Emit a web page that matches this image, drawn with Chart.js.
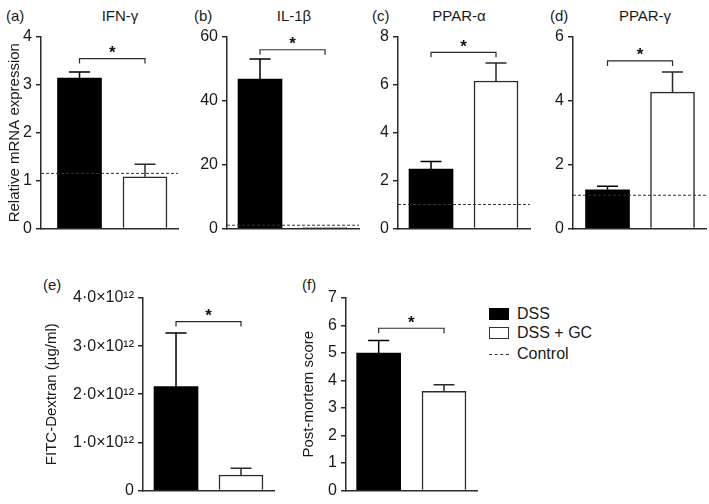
<!DOCTYPE html>
<html><head><meta charset="utf-8">
<script src="https://cdn.jsdelivr.net/npm/chart.js@4"></script>
<style>
html,body{margin:0;padding:0;background:#fff;}
body{width:709px;height:504px;position:relative;overflow:hidden;font-family:"Liberation Sans",Arial,sans-serif;color:#1a1a1a;}
canvas{position:absolute;}
.t{position:absolute;font-size:15px;line-height:15px;white-space:nowrap;transform:translateY(-50%);}
.c{transform:translate(-50%,-50%);}
.lg{position:absolute;font-size:16px;line-height:16px;white-space:nowrap;transform:translateY(-50%);}
.sw{position:absolute;box-sizing:border-box;}
</style></head><body>
<div class="t" style="left:6px;top:15px">(a)</div><div class="t c" style="left:120px;top:15px">IFN-γ</div>
<div class="t" style="left:194px;top:15px">(b)</div><div class="t c" style="left:294px;top:15px">IL-1β</div>
<div class="t" style="left:372px;top:15px">(c)</div><div class="t c" style="left:459px;top:15px">PPAR-α</div>
<div class="t" style="left:550px;top:15px">(d)</div><div class="t c" style="left:645px;top:15px">PPAR-γ</div>
<div class="t" style="left:43px;top:284px">(e)</div>
<div class="t" style="left:302px;top:284px">(f)</div>
<div class="sw" style="left:489px;top:308px;width:20px;height:12px;background:#000"></div>
<div class="lg" style="left:517px;top:314px">DSS</div>
<div class="sw" style="left:489px;top:327px;width:20px;height:12px;background:#fff;border:1.5px solid #333"></div>
<div class="lg" style="left:517px;top:333px">DSS + GC</div>
<div class="sw" style="left:489px;top:354px;width:20px;height:0;border-top:1px dashed #333"></div>
<div class="lg" style="left:517px;top:354px">Control</div>
<script>
// ---- data ----
const groups = ['DSS', 'DSS + GC'];
const groupPos = [1, 2];
const ifnMean = [3.14, 1.08];   const ifnErr = [0.13, 0.26];
const il1bMean = [46.8, 0.3];   const il1bErr = [6.3, 0];
const pparaMean = [2.48, 6.16]; const pparaErr = [0.32, 0.75];
const ppargMean = [1.21, 4.27]; const ppargErr = [0.11, 0.63];
const fitcMean = [2.16e12, 0.32e12]; const fitcErr = [1.11e12, 0.14e12];
const pmMean = [5.0, 3.6];      const pmErr = [0.45, 0.24];
const controlLevels = [1.15, 1, 1, 1.04, null, null];
const sigLevels = [3.55, 56, 7.36, 5.25, 3.51e12, 5.9];
const aTicks = ['0','1','2','3','4'];
const bTicks = ['0','20','40','60'];
const cTicks = ['0','2','4','6','8'];
const dTicks = ['0','2','4','6'];
const eTicks = ['0','1·0×10¹²','2·0×10¹²','3·0×10¹²','4·0×10¹²'];
const fTicks = ['0','1','2','3','4','5','6','7'];
const yTitles = ['Relative mRNA expression', '', '', '', 'FITC-Dextran (µg/ml)', 'Post-mortem score'];

const INK = '#2a2a2a';
const FONT = '"Liberation Sans", Arial, sans-serif';

const extras = {
  id: 'extras',
  afterDatasetsDraw(chart, args, opts) {
    const {ctx, chartArea, scales} = chart;
    const y = scales.y;
    ctx.save();
    if (opts.control != null) {
      const yy = y.getPixelForValue(opts.control);
      ctx.setLineDash([3, 2]);
      ctx.lineWidth = 1;
      ctx.strokeStyle = '#333';
      ctx.beginPath(); ctx.moveTo(chartArea.left, yy); ctx.lineTo(chartArea.right, yy); ctx.stroke();
      ctx.setLineDash([]);
    }
    const ds = chart.data.datasets[0];
    const meta = chart.getDatasetMeta(0);
    const centers = [];
    meta.data.forEach((bar, i) => {
      centers.push(bar.x);
      const v = ds.data[i].y, e = ds.err[i];
      if (!e) return;
      const y0 = y.getPixelForValue(v), y1 = y.getPixelForValue(v + e);
      ctx.strokeStyle = ds.errColor[i];
      ctx.lineWidth = 1.5;
      ctx.beginPath();
      ctx.moveTo(bar.x, y0); ctx.lineTo(bar.x, y1);
      ctx.moveTo(bar.x - 10.5, y1); ctx.lineTo(bar.x + 10.5, y1);
      ctx.stroke();
    });
    if (opts.sig != null && centers.length === 2) {
      const yb = y.getPixelForValue(opts.sig);
      ctx.strokeStyle = INK; ctx.lineWidth = 1.2;
      ctx.beginPath();
      ctx.moveTo(centers[0], yb + 5); ctx.lineTo(centers[0], yb);
      ctx.lineTo(centers[1], yb); ctx.lineTo(centers[1], yb + 5);
      ctx.stroke();
      ctx.fillStyle = '#111';
      ctx.font = 'bold 17px ' + FONT;
      ctx.textAlign = 'center'; ctx.textBaseline = 'alphabetic';
      ctx.fillText('*', (centers[0] + centers[1]) / 2, yb - 0.5);
    }
    ctx.restore();
  }
};

function makePanel(p) {
  const cv = document.createElement('canvas');
  cv.width = p.w; cv.height = p.h;
  cv.style.left = p.left + 'px'; cv.style.top = p.top + 'px';
  document.body.appendChild(cv);
  new Chart(cv, {
    type: 'bar',
    data: {
      datasets: [
        { label: p.title || 'value',
          data: groupPos.map((x, i) => ({ x: x, y: p.mean[i], group: groups[i] })),
          err: p.err, errColor: ['#000', INK],
          backgroundColor: ['#000', '#fff'], borderColor: ['#000', INK], borderWidth: [0, 1.5],
          barThickness: 44 }
      ]
    },
    options: {
      responsive: false, animation: false, devicePixelRatio: 1,
      layout: { padding: { top: 17, bottom: 10, left: 0, right: 2 } },
      plugins: { legend: { display: false }, tooltip: { enabled: false },
        extras: { control: p.control, sig: p.sig } },
      scales: {
        x: { type: 'linear', min: p.xmin, max: p.xmax, offset: false, bounds: 'data',
          grid: { display: false, offset: false }, ticks: { display: false },
          border: { display: true, color: INK, width: 1.5 },
          afterFit(s) { s.height = 0; } },
        y: { min: 0, max: p.ymax,
          ticks: { stepSize: p.step, color: '#1a1a1a', padding: 4,
            font: { size: 16, family: FONT },
            callback: (v, i) => p.ticks[i] },
          grid: { display: true, drawOnChartArea: false, drawTicks: true, tickLength: 5, color: INK, lineWidth: 1.5 },
          border: { display: true, color: INK, width: 1.5 },
          title: { display: !!p.title, text: p.title, color: '#1a1a1a', padding: { top: 4, bottom: 0 },
            font: { size: 15, family: FONT } },
          afterFit(s) { s.width = p.yw; } }
      }
    },
    plugins: [extras]
  });
}

makePanel({ left: 2,   top: 20,  w: 178, h: 222, yw: 39,  xmin: 0.412, xmax: 2.504,
  mean: ifnMean, err: ifnErr, control: controlLevels[0], sig: sigLevels[0], ymax: 4, step: 1, ticks: aTicks, title: yTitles[0] });
makePanel({ left: 187, top: 20,  w: 174, h: 222, yw: 40,  xmin: 0.492, xmax: 2.523,
  mean: il1bMean, err: il1bErr, control: controlLevels[1], sig: sigLevels[1], ymax: 60, step: 20, ticks: bTicks, title: yTitles[1] });
makePanel({ left: 358, top: 20,  w: 174, h: 222, yw: 40,  xmin: 0.492, xmax: 2.523,
  mean: pparaMean, err: pparaErr, control: controlLevels[2], sig: sigLevels[2], ymax: 8, step: 2, ticks: cTicks, title: yTitles[2] });
makePanel({ left: 533, top: 20,  w: 175, h: 222, yw: 40,  xmin: 0.469, xmax: 2.515,
  mean: ppargMean, err: ppargErr, control: controlLevels[3], sig: sigLevels[3], ymax: 6, step: 2, ticks: dTicks, title: yTitles[3] });
makePanel({ left: 39,  top: 281, w: 237, h: 223, yw: 104, xmin: 0.492, xmax: 2.508,
  mean: fitcMean, err: fitcErr, control: controlLevels[4], sig: sigLevels[4], ymax: 4e12, step: 1e12, ticks: eTicks, title: yTitles[4] });
makePanel({ left: 296, top: 281, w: 183, h: 223, yw: 50,  xmin: 0.5, xmax: 2.505,
  mean: pmMean, err: pmErr, control: controlLevels[5], sig: sigLevels[5], ymax: 7, step: 1, ticks: fTicks, title: yTitles[5] });
</script>
</body></html>
